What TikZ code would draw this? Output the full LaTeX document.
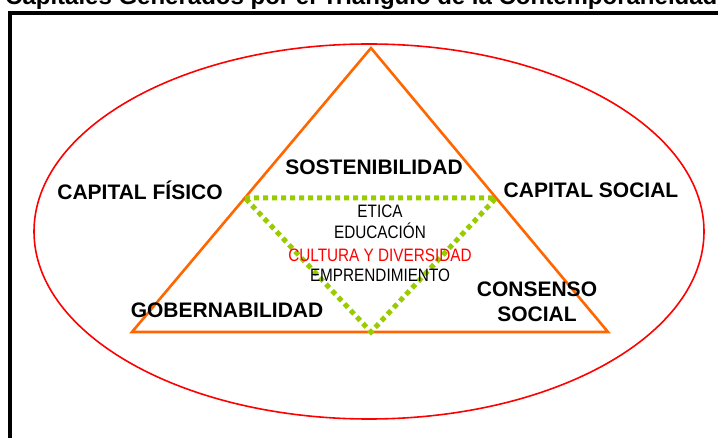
\documentclass[tikz,border=0pt]{standalone}
\usepackage{fontspec}
\setmainfont{Liberation Sans}
\newfontfamily\narrowfont[FakeStretch=0.85]{Liberation Sans}
\definecolor{triorange}{HTML}{FF6600}
\definecolor{trigreen}{HTML}{99CC00}
\definecolor{ellred}{HTML}{FF0000}
\begin{document}
\begin{tikzpicture}[x=1pt,y=-1pt,
  lbl/.style={font=\bfseries\fontsize{21}{25}\selectfont, inner sep=0pt, anchor=base},
  midtxt/.style={font=\narrowfont\fontsize{18}{21}\selectfont, inner sep=0pt, anchor=base},
  outer/.style={draw=triorange, line width=2.6pt, line join=miter},
  inner/.style={draw=trigreen, line width=5pt, dash pattern=on 5pt off 4pt},
  ring/.style={draw=ellred, line width=1.6pt},
  frame/.style={draw=black, line width=4.5pt}
]
\useasboundingbox (0,0) rectangle (718,438);
% title (cut off at the top)
\node[anchor=base west, inner sep=0pt, font=\bfseries\fontsize{24}{28}\selectfont] (title) at (5,5) {Capitales Generados por el Triangulo de la Contemporaneidad};
% frame
\draw[frame] (10,470) -- (10,13) -- (760,13);
% ellipse
\draw[ring] (369,231.5) ellipse [x radius=335pt, y radius=187.5pt];
% outer triangle
\coordinate (top) at (371,48);
\coordinate (bl) at (132,332);
\coordinate (br) at (608,332);
\draw[outer] (top) -- (bl) -- (br) -- cycle;
% inner dotted triangle
\coordinate (gl) at (245,198);
\coordinate (gr) at (496,198);
\coordinate (gb) at (371,332);
\draw[inner] (gl) -- (gr) -- (gb) -- cycle;
% labels
\node[lbl] (sost) at (374,175) {SOSTENIBILIDAD};
\node[lbl] (capf) at (140,200) {CAPITAL FÍSICO};
\node[lbl] (caps) at (591,198) {CAPITAL SOCIAL};
\node[lbl] (gob) at (227,318) {GOBERNABILIDAD};
\node[lbl] (cons1) at (537,297) {CONSENSO};
\node[lbl] (cons2) at (537,322) {SOCIAL};
% center list
\node[midtxt] (etica) at (380,218) {ETICA};
\node[midtxt] (educ) at (380,239) {EDUCACIÓN};
\node[midtxt, text=ellred] (cult) at (380,262) {CULTURA Y DIVERSIDAD};
\node[midtxt] (empr) at (380,282) {EMPRENDIMIENTO};
\end{tikzpicture}
\end{document}
